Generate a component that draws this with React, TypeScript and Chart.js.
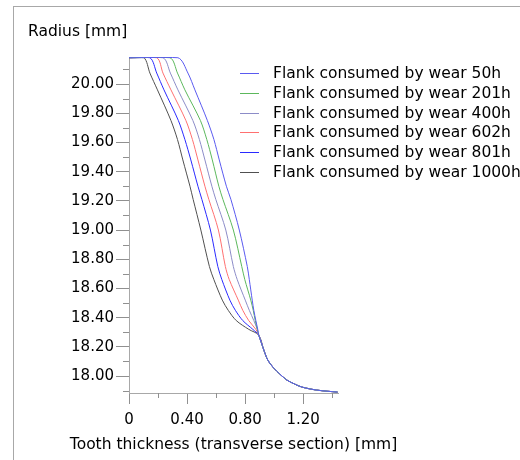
import { useEffect, useRef } from "react";
import { Chart, registerables } from "chart.js";

Chart.register(...registerables);

// ---- data ----
const seriesLabels = [
  "Flank consumed by wear 50h",
  "Flank consumed by wear 201h",
  "Flank consumed by wear 400h",
  "Flank consumed by wear 602h",
  "Flank consumed by wear 801h",
  "Flank consumed by wear 1000h",
];
const seriesColors = ["#5a5af0", "#5cb85c", "#8c8cc8", "#ff7070", "#2a2aff", "#505050"];

const tipRadius = 20.18;
// thickness where each flank leaves the tip circle
const departureThickness = [0.337, 0.282, 0.234, 0.191, 0.144, 0.103];

// worn flank: shared radii, thickness per series
const wornRadius = [20.075, 19.96, 19.75, 19.62, 19.48, 19.3, 19.21, 19.0, 18.75, 18.66, 18.52, 18.45, 18.38, 18.32];
const thickness50h = [0.406, 0.454, 0.54, 0.585, 0.622, 0.671, 0.702, 0.76, 0.815, 0.829, 0.849, 0.86, 0.874, 0.887];
const thickness201h = [0.334, 0.385, 0.492, 0.536, 0.574, 0.619, 0.647, 0.719, 0.777, 0.798, 0.839, 0.856, 0.87, 0.884];
const thickness400h = [0.285, 0.337, 0.44, 0.485, 0.523, 0.571, 0.598, 0.667, 0.719, 0.746, 0.801, 0.829, 0.86, 0.884];
const thickness602h = [0.234, 0.289, 0.392, 0.437, 0.475, 0.523, 0.55, 0.616, 0.664, 0.691, 0.753, 0.784, 0.825, 0.874];
const thickness801h = [0.191, 0.241, 0.34, 0.385, 0.426, 0.475, 0.502, 0.561, 0.612, 0.64, 0.695, 0.733, 0.784, 0.853];
const thickness1000h = [0.144, 0.196, 0.289, 0.334, 0.371, 0.42, 0.442, 0.495, 0.554, 0.585, 0.643, 0.684, 0.739, 0.825];
const wornThickness = [thickness50h, thickness201h, thickness400h, thickness602h, thickness801h, thickness1000h];

// common root fillet (all series)
const tailRadius = [18.28, 18.178, 18.11, 18.055, 18.014, 17.973, 17.945, 17.925, 17.904, 17.89];
const tailThickness = [0.894, 0.929, 0.956, 0.997, 1.039, 1.087, 1.142, 1.19, 1.293, 1.437];

const xTickValues = [0, 0.2, 0.4, 0.6, 0.8, 1.0, 1.2, 1.4];
const yTickValues = [17.9, 18.0, 18.1, 18.2, 18.3, 18.4, 18.5, 18.6, 18.7, 18.8, 18.9, 19.0, 19.1, 19.2, 19.3, 19.4, 19.5, 19.6, 19.7, 19.8, 19.9, 20.0, 20.1];

const yTitle = "Radius [mm]";
const xTitle = "Tooth thickness (transverse section) [mm]";

const FONT = '"DejaVu Sans", Verdana, sans-serif';
const AXIS_COLOR = "#a8a8a8";
const TICK_COLOR = "#909090";

const isMajorY = (v: number) => Math.round(v * 10) % 2 === 0;
const isMajorX = (v: number) => Math.round(v * 10) % 4 === 0;

const decorPlugin = {
  id: "decor",
  beforeDraw(chart: any) {
    const ctx = chart.ctx;
    ctx.save();
    ctx.strokeStyle = AXIS_COLOR;
    ctx.lineWidth = 1;
    ctx.strokeRect(13.5, 6.5, 1000, 1000);
    ctx.restore();
  },
  afterDraw(chart: any) {
    const ctx = chart.ctx;
    const area = chart.chartArea;
    const xs = chart.scales.x;
    const ys = chart.scales.y;
    ctx.save();
    // minor ticks
    ctx.strokeStyle = TICK_COLOR;
    ctx.lineWidth = 1;
    ctx.beginPath();
    yTickValues.forEach((v) => {
      if (isMajorY(v)) return;
      const py = Math.round(ys.getPixelForValue(v)) + 0.5;
      ctx.moveTo(area.left - 6, py);
      ctx.lineTo(area.left, py);
    });
    xTickValues.forEach((v) => {
      if (isMajorX(v)) return;
      const px = Math.round(xs.getPixelForValue(v)) + 0.5;
      ctx.moveTo(px, area.bottom);
      ctx.lineTo(px, area.bottom + 5);
    });
    ctx.stroke();

    ctx.fillStyle = "#000";
    ctx.font = `15.5px ${FONT}`;
    ctx.textBaseline = "middle";

    // y title
    ctx.textAlign = "left";
    ctx.fillText(yTitle, 28, 32);

    // x title
    ctx.textAlign = "center";
    ctx.fillText(xTitle, (area.left + area.right) / 2, 445);

    // legend
    ctx.textAlign = "left";
    const lx = area.left + 111;
    const ly = area.top + 16;
    chart.data.datasets.forEach((ds: any, i: number) => {
      const y = Math.round(ly + i * 19.8) + 0.5;
      ctx.strokeStyle = ds.borderColor;
      ctx.beginPath();
      ctx.moveTo(lx, y);
      ctx.lineTo(lx + 19, y);
      ctx.stroke();
      ctx.fillStyle = "#000";
      ctx.fillText(ds.label, lx + 33, y);
    });
    ctx.restore();
  },
};

export default function App() {
  const ref = useRef<HTMLCanvasElement | null>(null);

  useEffect(() => {
    if (!ref.current) return;
    const datasets = seriesLabels.map((label, i) => {
      const pts: { x: number; y: number }[] = [
        { x: 0, y: tipRadius },
        { x: departureThickness[i], y: tipRadius },
      ];
      wornRadius.forEach((r, k) => pts.push({ x: wornThickness[i][k], y: r }));
      tailRadius.forEach((r, k) => pts.push({ x: tailThickness[k], y: r }));
      return {
        label,
        data: pts,
        borderColor: seriesColors[i],
        borderWidth: 1,
        pointRadius: 0,
        fill: false,
        tension: 0.3,
      };
    });

    const chart = new Chart(ref.current, {
      type: "line",
      data: { datasets },
      plugins: [decorPlugin],
      options: {
        responsive: false,
        animation: false,
        layout: { padding: { left: 0, right: 182, top: 57, bottom: 0 } },
        plugins: { legend: { display: false }, tooltip: { enabled: false }, title: { display: false } },
        scales: {
          x: {
            type: "linear",
            min: 0,
            max: 1.44,
            afterBuildTicks: (s: any) => {
              s.ticks = xTickValues.map((v) => ({ value: v }));
            },
            afterFit: (s: any) => {
              s.height = 67;
            },
            ticks: {
              autoSkip: false,
              maxRotation: 0,
              padding: 7,
              color: "#000",
              font: { family: FONT, size: 15 },
              callback: (v: any) => (isMajorX(v) ? (v === 0 ? "0" : Number(v).toFixed(2)) : ""),
            },
            grid: {
              drawOnChartArea: false,
              tickLength: 11,
              tickColor: (c: any) => (c.tick && isMajorX(c.tick.value) ? TICK_COLOR : "rgba(0,0,0,0)"),
            },
            border: { color: AXIS_COLOR },
          },
          y: {
            type: "linear",
            min: 17.884,
            max: 20.185,
            afterBuildTicks: (s: any) => {
              s.ticks = yTickValues.map((v) => ({ value: v }));
            },
            afterFit: (s: any) => {
              s.width = 129;
            },
            ticks: {
              autoSkip: false,
              padding: 2,
              color: "#000",
              font: { family: FONT, size: 15 },
              callback: (v: any) => (isMajorY(v) ? Number(v).toFixed(2) : ""),
            },
            grid: {
              drawOnChartArea: false,
              tickLength: 13,
              tickColor: (c: any) => (c.tick && isMajorY(c.tick.value) ? TICK_COLOR : "rgba(0,0,0,0)"),
            },
            border: { color: AXIS_COLOR },
          },
        },
      },
    });
    return () => chart.destroy();
  }, []);

  return (
    <div style={{ position: "fixed", left: 0, top: 0, width: 520, height: 460, background: "#fff", overflow: "hidden" }}>
      <canvas ref={ref} width={520} height={460} style={{ display: "block" }} />
    </div>
  );
}
